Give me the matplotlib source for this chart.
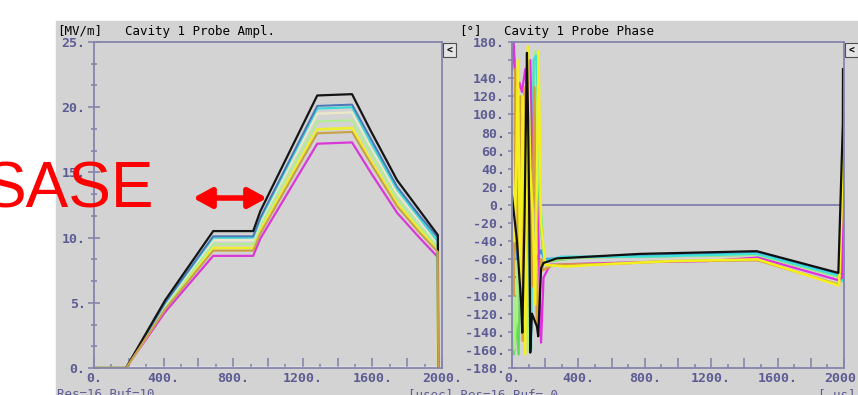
import matplotlib
matplotlib.use("Agg")
import matplotlib.pyplot as plt
from matplotlib.patches import Rectangle
from matplotlib.ticker import FixedLocator, FixedFormatter, AutoMinorLocator

W, H = 858, 395

# ---- left panel: cavity probe amplitude [MV/m] ----
amp_t = [0, 184, 409, 685, 915, 955, 1283, 1483, 1590, 1742, 1870, 1976, 1978]
amp_black = [0, 0, 5.2, 10.5, 10.5, 12.0, 20.9, 21.0, 18.2, 14.4, 12.1, 10.2, 0]
amp_steel = [0, 0, 5.0, 10.1, 10.1, 11.5, 20.1, 20.2, 17.6, 13.9, 11.7, 10.0, 0]
amp_cyan = [0, 0, 5.0, 10.0, 10.0, 11.4, 19.9, 20.0, 17.3, 13.7, 11.5, 9.7, 0]
amp_beige = [0, 0, 4.9, 9.8, 9.8, 11.2, 19.5, 19.6, 17.0, 13.4, 11.3, 9.5, 0]
amp_green = [0, 0, 4.7, 9.5, 9.5, 10.9, 18.9, 19.0, 16.5, 13.0, 10.9, 9.3, 0]
amp_yellow = [0, 0, 4.6, 9.2, 9.2, 10.5, 18.3, 18.4, 15.9, 12.6, 10.6, 9.0, 0]
amp_gold = [0, 0, 4.5, 9.0, 9.0, 10.3, 18.0, 18.1, 15.7, 12.4, 10.4, 8.9, 0]
amp_magenta = [0, 0, 4.3, 8.6, 8.6, 9.9, 17.2, 17.3, 15.0, 11.9, 10.0, 8.5, 0]
amp_zero_t = [184, 1990]
amp_zero = [0, 0]

# ---- right panel: cavity probe phase [deg] ----
ph_black_t = [0, 30, 55, 62, 75, 90, 97, 105, 110, 120, 150, 158, 175, 190, 269, 771, 1474, 1966, 1993, 1994]
ph_black = [10, -40, -108, -141, -20, 168, 94, -30, -163, -120, -134, -145, -70, -64, -59, -54, -51, -75, 90, 150]
ph_steel_t = [0, 30, 50, 70, 90, 110, 130, 150, 175, 195, 300, 800, 1474, 1966, 1995]
ph_steel = [40, -60, 100, 70, -30, 130, -40, -60, -50, -60, -58, -56, -53, -77, -75]
ph_cyan_t = [0, 10, 25, 40, 55, 70, 85, 100, 115, 130, 145, 160, 175, 185, 195, 300, 800, 1474, 1966, 1990, 1995]
ph_cyan = [60, -20, 40, 110, 60, -140, 100, -10, -160, 160, 165, 100, -10, -40, -62, -57, -57, -54, -78, -84, -70]
ph_lgreen_t = [0, 15, 30, 50, 65, 80, 100, 120, 140, 150, 165, 180, 195, 400, 1474, 1966, 1990, 1995]
ph_lgreen = [-20, -160, -100, 100, -150, -120, -160, 110, 170, 90, 20, -20, -62, -58, -55, -79, -60, 60]
ph_green_t = [0, 10, 25, 40, 55, 80, 100, 130, 150, 170, 195, 400, 1474, 1966, 1995]
ph_green = [-60, -165, -130, -165, 10, -80, -10, 90, 90, -20, -63, -58, -55, -79, -20]
ph_magenta_t = [0, 10, 25, 45, 60, 80, 95, 110, 125, 140, 160, 175, 190, 230, 400, 800, 1170, 1480, 1966, 1990, 1995]
ph_magenta = [150, 180, 120, 135, 125, 150, 120, 160, 40, 60, -40, -152, -80, -66, -65, -63, -62, -58, -83, -80, 100]
ph_yellow_t = [0, 15, 25, 35, 50, 65, 80, 95, 110, 125, 140, 160, 175, 200, 320, 600, 950, 1480, 1970, 1985, 1995]
ph_yellow = [80, -40, 30, 160, -90, 120, -165, 175, 40, -10, -110, 170, -20, -66, -68, -65, -62, -60, -89, -10, 120]
ph_gold_t = [0, 10, 20, 35, 50, 65, 75, 90, 105, 120, 135, 150, 165, 175, 185, 250, 600, 950, 1480, 1970, 1985, 1995]
ph_gold = [0, -100, 150, -50, 120, -150, 130, -40, 60, -90, 130, -130, -100, -60, -72, -66, -65, -62, -61, -88, 0, 10]
ph_zero_t = [180, 1990]
ph_zero = [0, 0]

x_ticks = [0, 200, 400, 600, 800, 1000, 1200, 1400, 1600, 1800, 2000]
x_labels = ["0.", "", "400.", "", "800.", "", "1200.", "", "1600.", "", "2000."]
amp_ticks = [0, 5, 10, 15, 20, 25]
amp_labels = ["0.", "5.", "10.", "15.", "20.", "25."]
ph_ticks = list(range(-180, 181, 20))
ph_labels = ["-180.", "-160.", "-140.", "-120.", "-100.", "-80.", "-60.", "-40.", "-20.", "0.",
             "20.", "40.", "60.", "80.", "100.", "120.", "140.", "", "180."]

bg = "#d3d3d3"
frame = "#8585ad"
tickc = "#5c5c94"
mono = "DejaVu Sans Mono"


def fx(px):
    return px / W


def fy(py):
    return 1 - py / H


fig = plt.figure(figsize=(W / 100, H / 100), dpi=100)
fig.patch.set_facecolor("white")
fig.add_artist(Rectangle((fx(56), 0), fx(W) - fx(56), fy(21), color=bg, zorder=0,
                         transform=fig.transFigure))


def style_axes(ax):
    ax.set_facecolor(bg)
    for s in ax.spines.values():
        s.set_color(frame)
        s.set_linewidth(1.3)
    ax.set_xlim(0, 2000)
    ax.xaxis.set_major_locator(FixedLocator(x_ticks))
    ax.xaxis.set_major_formatter(FixedFormatter(x_labels))
    ax.xaxis.set_minor_locator(AutoMinorLocator(2))
    ax.tick_params(axis="x", which="major", direction="in", length=7, width=1.2,
                   color=frame, labelcolor=tickc, pad=3)
    ax.tick_params(axis="x", which="minor", direction="in", length=3, width=1.2, color=frame)
    ax.tick_params(axis="y", which="both", direction="inout", width=1.2, color=frame,
                   labelcolor=tickc, pad=2)
    for lab in ax.get_xticklabels() + ax.get_yticklabels():
        lab.set_fontfamily(mono)
        lab.set_fontsize(9.5)
        lab.set_fontweight("bold")


# left panel
ax1 = fig.add_axes([fx(94), fy(368), fx(442) - fx(94), fy(42) - fy(368)])
ax1.set_ylim(0, 25)
ax1.yaxis.set_major_locator(FixedLocator(amp_ticks))
ax1.yaxis.set_major_formatter(FixedFormatter(amp_labels))
ax1.yaxis.set_minor_locator(AutoMinorLocator(3))
ax1.tick_params(axis="y", which="major", length=8)
ax1.tick_params(axis="y", which="minor", length=4)
style_axes(ax1)

ax1.plot(amp_zero_t, amp_zero, color="white", lw=2.5)
ax1.plot(amp_t, amp_magenta, color="#d838d8", lw=1.6)
ax1.plot(amp_t, amp_yellow, color="#eeee30", lw=2.0)
ax1.plot(amp_t, amp_green, color="#b0ee90", lw=1.5)
ax1.plot(amp_t, amp_beige, color="#ece8c8", lw=1.6)
ax1.plot(amp_t, amp_cyan, color="#40d8d8", lw=1.6)
ax1.plot(amp_t, amp_steel, color="#4a78b8", lw=1.4)
ax1.plot(amp_t, amp_black, color="#151515", lw=1.6)
ax1.plot(amp_t, amp_gold, color="#c8a048", lw=1.5)

# right panel
ax2 = fig.add_axes([fx(512), fy(368), fx(844) - fx(512), fy(42) - fy(368)])
ax2.set_ylim(-180, 180)
ax2.yaxis.set_major_locator(FixedLocator(ph_ticks))
ax2.yaxis.set_major_formatter(FixedFormatter(ph_labels))
ax2.tick_params(axis="y", which="major", length=6)
style_axes(ax2)

ax2.plot(ph_zero_t, ph_zero, color="#7878a8", lw=1.2)
ax2.plot(ph_green_t, ph_green, color="#60dd50", lw=1.6)
ax2.plot(ph_lgreen_t, ph_lgreen, color="#a8f080", lw=1.6)
ax2.plot(ph_steel_t, ph_steel, color="#3a96d8", lw=1.6)
ax2.plot(ph_cyan_t, ph_cyan, color="#40e0d8", lw=1.6)
ax2.plot(ph_magenta_t, ph_magenta, color="#e030e0", lw=1.6)
ax2.plot(ph_gold_t, ph_gold, color="#d4a038", lw=1.8)
ax2.plot(ph_yellow_t, ph_yellow, color="#f4f020", lw=1.8)
ax2.plot(ph_black_t, ph_black, color="#101010", lw=1.6)

# titles
fig.text(fx(57), fy(31), "[MV/m]", family=mono, fontsize=9, va="center")
fig.text(fx(125), fy(31), "Cavity 1 Probe Ampl.", family=mono, fontsize=9, va="center")
fig.text(fx(459), fy(31), "[°]", family=mono, fontsize=9, va="center")
fig.text(fx(504), fy(31), "Cavity 1 Probe Phase", family=mono, fontsize=9, va="center")

# footer text (cut by the bottom edge, as in the screenshot)
fig.text(fx(57), fy(388), "Res=16 Buf=10", family=mono, fontsize=9, color=tickc, va="top")
fig.text(fx(408), fy(388), "[usec] Res=16 Buf= 0", family=mono, fontsize=9, color=tickc, va="top")
fig.text(fx(818), fy(388), "[ us]", family=mono, fontsize=9, color=tickc, va="top")

# small scroll buttons
for bx in (443, 845):
    fig.add_artist(Rectangle((fx(bx), fy(57)), fx(13), 14 / H, facecolor="#e4e4e4",
                             edgecolor="#505050", lw=0.8, transform=fig.transFigure, zorder=5))
    fig.text(fx(bx + 6.5), fy(50), "<", family=mono, fontsize=7, fontweight="bold",
             ha="center", va="center", zorder=6)

# annotation overlay
fig.text(fx(-17), fy(207), "SASE", family="Liberation Sans", fontsize=46, color="red",
         va="baseline", zorder=10)
ax1.annotate("", xy=(fx(267), fy(198)), xytext=(fx(193), fy(198)),
             xycoords="figure fraction", textcoords="figure fraction",
             arrowprops=dict(arrowstyle="<|-|>,head_length=0.55,head_width=0.3",
                             color="red", lw=4, mutation_scale=20, shrinkA=0, shrinkB=0),
             annotation_clip=False, zorder=10)

fig.savefig("out.png", dpi=100)
